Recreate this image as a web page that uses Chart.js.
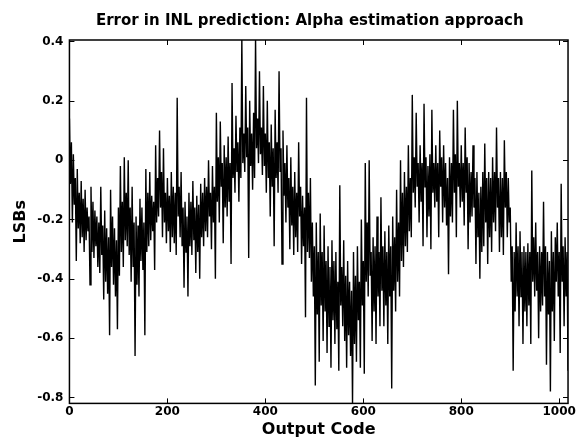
<!DOCTYPE html>
<html>
<head>
<meta charset="utf-8">
<script src="https://cdn.jsdelivr.net/npm/chart.js@4.4.1/dist/chart.umd.min.js"></script>
<style>
html,body{margin:0;padding:0;background:#fff;}
canvas{display:block;}
</style>
</head>
<body>
<canvas id="c" width="577" height="441"></canvas>
<script>
const titleText = 'Error in INL prediction: Alpha estimation approach';
const xLabel = 'Output Code';
const yLabel = 'LSBs';
const xTicks = [0, 200, 400, 600, 800, 1000];
const yTicks = [-0.8, -0.6, -0.4, -0.2, 0, 0.2, 0.4];
const yTickLabels = ['-0.8', '-0.6', '-0.4', '-0.2', '0', '0.2', '0.4'];

const codes = [
  0,2,4,6,8,10,12,14,16,18,20,22,24,26,28,30,32,34,36,38,40,42,44,46,48,50,52,54,56,58,60,62,64,66,68,70,72,74,76,78,80,82,84,86,88,90,92,94,96,98,
  100,102,104,106,108,110,112,114,116,118,120,122,124,126,128,130,132,134,136,138,140,142,144,146,148,150,152,154,156,158,160,162,164,166,168,170,172,174,176,178,180,182,184,186,188,190,192,194,196,198,
  200,202,204,206,208,210,212,214,216,218,220,222,224,226,228,230,232,234,236,238,240,242,244,246,248,250,252,254,256,258,260,262,264,266,268,270,272,274,276,278,280,282,284,286,288,290,292,294,296,298,
  300,302,304,306,308,310,312,314,316,318,320,322,324,326,328,330,332,334,336,338,340,342,344,346,348,350,352,354,356,358,360,362,364,366,368,370,372,374,376,378,380,382,384,386,388,390,392,394,396,398,
  400,402,404,406,408,410,412,414,416,418,420,422,424,426,428,430,432,434,436,438,440,442,444,446,448,450,452,454,456,458,460,462,464,466,468,470,472,474,476,478,480,482,484,486,488,490,492,494,496,498,
  500,502,504,506,508,510,512,514,516,518,520,522,524,526,528,530,532,534,536,538,540,542,544,546,548,550,552,554,556,558,560,562,564,566,568,570,572,574,576,578,580,582,584,586,588,590,592,594,596,598,
  600,602,604,606,608,610,612,614,616,618,620,622,624,626,628,630,632,634,636,638,640,642,644,646,648,650,652,654,656,658,660,662,664,666,668,670,672,674,676,678,680,682,684,686,688,690,692,694,696,698,
  700,702,704,706,708,710,712,714,716,718,720,722,724,726,728,730,732,734,736,738,740,742,744,746,748,750,752,754,756,758,760,762,764,766,768,770,772,774,776,778,780,782,784,786,788,790,792,794,796,798,
  800,802,804,806,808,810,812,814,816,818,820,822,824,826,828,830,832,834,836,838,840,842,844,846,848,850,852,854,856,858,860,862,864,866,868,870,872,874,876,878,880,882,884,886,888,890,892,894,896,898,
  900,902,904,906,908,910,912,914,916,918,920,922,924,926,928,930,932,934,936,938,940,942,944,946,948,950,952,954,956,958,960,962,964,966,968,970,972,974,976,978,980,982,984,986,988,990,992,994,996,998,
  1000,1002,1004,1006,1008,1010,1012,1014,1016,1018
];

const inlError = [
  0.14,-0.08, 0.06,-0.21, 0.02,-0.15, -0.06,-0.34, -0.03,-0.23, -0.11,-0.28, -0.07,-0.26, -0.13,-0.31, -0.1,-0.27, -0.16,-0.24,
  -0.19,-0.42, -0.09,-0.31, -0.14,-0.33, -0.17,-0.29, -0.19,-0.36, -0.21,-0.38, -0.09,-0.32, -0.22,-0.47, -0.17,-0.41, -0.23,-0.45,
  -0.26,-0.59, -0.1,-0.36, -0.19,-0.42, -0.23,-0.46, -0.27,-0.57, -0.16,-0.39, -0.02,-0.31, -0.14,-0.36, 0.01,-0.27, -0.11,-0.29,
  0.0,-0.32, -0.16,-0.41, -0.09,-0.36, -0.21,-0.66, -0.19,-0.42, -0.22,-0.46, -0.13,-0.34, -0.16,-0.37, -0.21,-0.59, -0.03,-0.31,
  -0.11,-0.29, -0.04,-0.27, -0.12,-0.24, -0.14,-0.37, 0.05,-0.21, -0.06,-0.19, 0.1,-0.16, -0.04,-0.26, 0.04,-0.21, -0.11,-0.28,
  -0.06,-0.24, -0.12,-0.31, -0.04,-0.26, -0.09,-0.28, -0.11,-0.32, 0.21,-0.19, -0.09,-0.26, -0.04,-0.29, -0.16,-0.43, -0.14,-0.31,
  -0.19,-0.46, -0.11,-0.29, -0.14,-0.32, -0.07,-0.27, -0.16,-0.38, -0.12,-0.31, -0.15,-0.4, -0.08,-0.26, -0.11,-0.29, -0.06,-0.24,
  -0.09,-0.26, 0.0,-0.19, -0.11,-0.3, -0.02,-0.21, -0.09,-0.4, 0.16,-0.14, 0.01,-0.21, 0.13,-0.09, -0.01,-0.28, 0.05,-0.16,
  0.01,-0.19, 0.08,-0.14, -0.01,-0.35, 0.26,-0.06, 0.04,-0.11, 0.15,-0.04, 0.06,-0.14, 0.11,-0.06, 0.41,-0.01, 0.09,-0.04,
  0.25,0.01, 0.11,-0.33, 0.2,-0.02, 0.09,-0.1, 0.16,-0.06, 0.41,0.04, 0.14,-0.01, 0.3,0.02, 0.11,-0.05, 0.25,-0.02,
  0.09,-0.11, 0.2,-0.06, 0.06,-0.19, 0.12,-0.09, 0.04,-0.29, 0.17,-0.06, 0.06,-0.11, 0.3,-0.04, 0.04,-0.35, 0.1,-0.12,
  -0.01,-0.21, 0.05,-0.16, -0.06,-0.3, 0.01,-0.22, -0.09,-0.32, -0.04,-0.26, -0.11,-0.31, 0.06,-0.19, -0.09,-0.35, -0.12,-0.29,
  -0.16,-0.53, 0.21,-0.31, -0.11,-0.33, -0.06,-0.41, -0.21,-0.46, -0.29,-0.76, -0.21,-0.52, -0.31,-0.68, -0.18,-0.49, -0.31,-0.61,
  -0.22,-0.51, -0.34,-0.65, -0.29,-0.56, -0.36,-0.7, -0.27,-0.54, -0.34,-0.62, -0.31,-0.57, -0.41,-0.71, -0.085,-0.49, -0.36,-0.56,
  -0.27,-0.61, -0.39,-0.7, -0.34,-0.59, -0.41,-0.66, -0.44,-0.82, -0.31,-0.62, -0.39,-0.68, -0.29,-0.54, -0.41,-0.7, -0.2,-0.49,
  -0.34,-0.72, -0.01,-0.41, -0.21,-0.46, 0.0,-0.39, -0.31,-0.61, -0.26,-0.51, -0.29,-0.62, -0.19,-0.46, -0.31,-0.56, -0.125,-0.44,
  -0.29,-0.56, -0.24,-0.49, -0.31,-0.62, -0.22,-0.46, -0.29,-0.77, -0.19,-0.44, -0.26,-0.51, -0.1,-0.41, -0.21,-0.46, 0.0,-0.34,
  -0.11,-0.36, -0.04,-0.29, -0.09,-0.31, 0.05,-0.24, -0.06,-0.26, 0.22,-0.11, 0.01,-0.16, 0.16,-0.09, -0.01,-0.21, 0.05,-0.14,
  -0.01,-0.29, 0.19,-0.09, 0.01,-0.26, -0.02,-0.19, 0.02,-0.3, 0.17,-0.11, -0.01,-0.16, 0.05,-0.14, -0.01,-0.26, 0.1,-0.09,
  0.01,-0.21, 0.05,-0.16, -0.01,-0.22, -0.06,-0.385, 0.01,-0.19, -0.01,-0.21, 0.17,-0.11, 0.02,-0.26, 0.2,-0.09, -0.01,-0.16,
  0.05,-0.14, -0.01,-0.22, 0.11,-0.11, 0.01,-0.3, -0.01,-0.21, -0.04,-0.19, 0.05,-0.16, -0.06,-0.35, -0.04,-0.26, -0.11,-0.4,
  -0.09,-0.31, -0.04,-0.29, 0.056,-0.21, -0.06,-0.35, -0.04,-0.26, -0.06,-0.31, 0.01,-0.21, -0.04,-0.24, 0.11,-0.16, -0.06,-0.31,
  -0.04,-0.26, -0.06,-0.32, 0.067,-0.16, -0.04,-0.26, -0.06,-0.21, -0.16,-0.41, -0.29,-0.71, -0.31,-0.51, -0.21,-0.46, -0.29,-0.56,
  -0.24,-0.46, -0.31,-0.62, -0.29,-0.51, -0.31,-0.56, -0.28,-0.49, -0.31,-0.62, -0.035,-0.41, -0.26,-0.46, -0.21,-0.44, -0.31,-0.6,
  -0.29,-0.51, -0.31,-0.49, -0.14,-0.46, -0.29,-0.69, -0.31,-0.52, -0.34,-0.78, -0.24,-0.51, -0.31,-0.61, -0.26,-0.41, -0.21,-0.46,
  -0.31,-0.65, -0.08,-0.41, -0.29,-0.56, -0.26,-0.46, -0.31,-0.71
];

const FONT = 'DejaVu Sans';

const framePlugin = {
  id: 'frame',
  afterDatasetsDraw(chart) {
    const {ctx, chartArea: a, scales: {x, y}} = chart;
    ctx.save();
    ctx.strokeStyle = '#000';
    ctx.lineWidth = 1.5;
    ctx.strokeRect(a.left, a.top, a.right - a.left, a.bottom - a.top);
    ctx.lineWidth = 1;
    const L = 5;
    ctx.beginPath();
    x.ticks.forEach(t => {
      const px = Math.round(x.getPixelForValue(t.value)) + 0.5;
      ctx.moveTo(px, a.bottom); ctx.lineTo(px, a.bottom - L);
      ctx.moveTo(px, a.top); ctx.lineTo(px, a.top + L);
    });
    y.ticks.forEach(t => {
      const py = Math.round(y.getPixelForValue(t.value)) + 0.5;
      ctx.moveTo(a.left, py); ctx.lineTo(a.left + L, py);
      ctx.moveTo(a.right, py); ctx.lineTo(a.right - L, py);
    });
    ctx.stroke();
    ctx.restore();
  }
};

const titleShift = {
  id: 'titleShift',
  afterLayout(chart) {
    const t = chart.titleBlock;
    if (t) {
      t.left = chart.chartArea.left;
      t.right = chart.chartArea.right - 18;
      t.width = t.right - t.left;
    }
  }
};

new Chart(document.getElementById('c').getContext('2d'), {
  type: 'line',
  data: {
    datasets: [{
      data: codes.map((c, i) => ({x: c, y: inlError[i]})),
      borderColor: '#000',
      borderWidth: 1.4,
      pointRadius: 0,
      tension: 0,
      fill: false
    }]
  },
  options: {
    responsive: false,
    animation: false,
    layout: {padding: {left: 11, right: 5, top: 0, bottom: 0}},
    plugins: {
      legend: {display: false},
      tooltip: {enabled: false},
      title: {
        display: true,
        text: titleText,
        color: '#000',
        font: {family: FONT, size: 15, weight: 'bold'},
        padding: {top: 12, bottom: 10}
      }
    },
    scales: {
      x: {
        type: 'linear',
        min: 0,
        max: 1018,
        afterBuildTicks: s => { s.ticks = xTicks.map(v => ({value: v})); },
        ticks: {
          color: '#000',
          font: {family: FONT, size: 12, weight: 'bold'},
          padding: 1,
          maxRotation: 0,
          autoSkip: false,
          callback: v => String(v)
        },
        grid: {display: false, drawTicks: false},
        border: {display: false},
        title: {
          display: true,
          text: xLabel,
          color: '#000',
          font: {family: FONT, size: 16, weight: 'bold'},
          padding: {top: 0, bottom: 2}
        }
      },
      y: {
        type: 'linear',
        min: -0.82,
        max: 0.405,
        afterBuildTicks: s => { s.ticks = yTicks.map(v => ({value: v})); },
        ticks: {
          color: '#000',
          font: {family: FONT, size: 12, weight: 'bold'},
          padding: 6,
          autoSkip: false,
          callback: v => yTickLabels[yTicks.indexOf(v)]
        },
        grid: {display: false, drawTicks: false},
        border: {display: false},
        title: {
          display: true,
          text: yLabel,
          color: '#000',
          font: {family: FONT, size: 16, weight: 'bold'},
          padding: {top: 0, bottom: 1}
        }
      }
    }
  },
  plugins: [framePlugin, titleShift]
});
</script>
</body>
</html>
